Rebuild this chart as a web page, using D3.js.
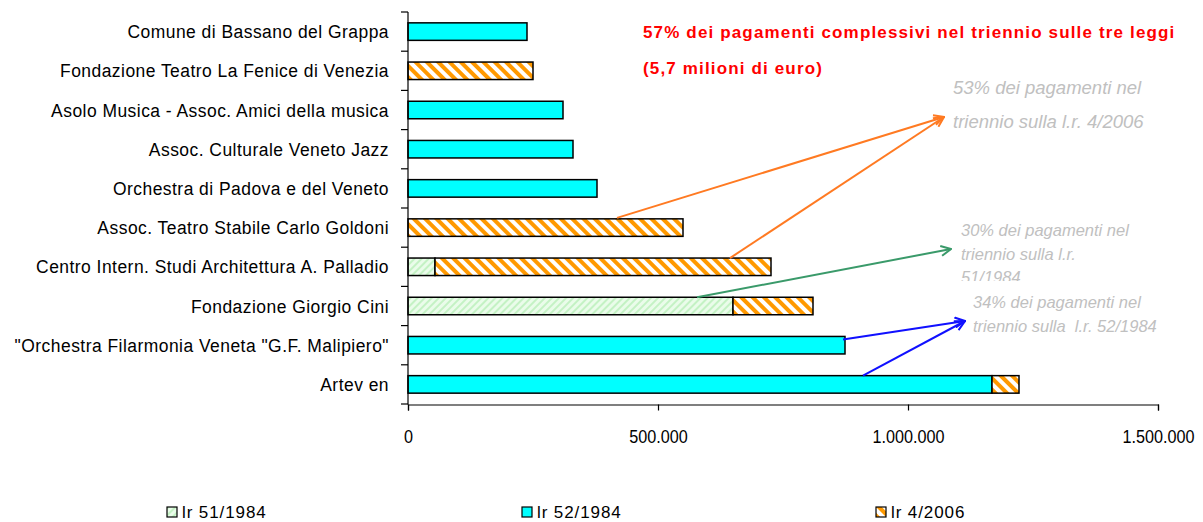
<!DOCTYPE html>
<html><head><meta charset="utf-8">
<script src="https://cdn.jsdelivr.net/npm/d3@7"></script>
<style>
html,body{margin:0;padding:0;background:#fff;}
svg{display:block;font-family:"Liberation Sans",Arial,sans-serif;}
</style></head>
<body><svg id="c" width="1203" height="522"></svg>
<script>
const categories = [
  "Comune di Bassano del Grappa",
  "Fondazione Teatro La Fenice di Venezia",
  "Asolo Musica - Assoc. Amici della musica",
  "Assoc. Culturale Veneto Jazz",
  "Orchestra di Padova e del Veneto",
  "Assoc. Teatro Stabile Carlo Goldoni",
  "Centro Intern. Studi Architettura A. Palladio",
  "Fondazione Giorgio Cini",
  "\"Orchestra Filarmonia Veneta \"G.F. Malipiero\"",
  "Artev en"
];
const seriesNames = ["lr 51/1984", "lr 52/1984", "lr 4/2006"];
const lr51 = [0, 0, 0, 0, 0, 0, 54000, 650000, 0, 0];
const lr52 = [238000, 0, 310000, 330000, 378000, 0, 0, 0, 874000, 1168000];
const lr4  = [0, 250000, 0, 0, 0, 550000, 672000, 160000, 0, 54000];
const xTicks = [0, 500000, 1000000, 1500000];

const titleLines = ["57% dei pagamenti complessivi nel triennio sulle tre leggi", "(5,7 milioni di euro)"];
const note4 = ["53% dei pagamenti nel", "triennio sulla l.r. 4/2006"];
const note51 = ["30% dei pagamenti nel", "triennio sulla l.r.", "51/1984"];
const note52 = ["34% dei pagamenti nel", "triennio sulla  l.r. 52/1984"];

// arrows: start on a bar (category, value), end near a note
const arrows = [
  {cat: 5, value: 418000, dy: -1, to: [944, 117], color: "#ff7a22"},
  {cat: 6, value: 644000, dy: 0, to: [944, 117], color: "#ff7a22"},
  {cat: 7, value: 578000, dy: 0, to: [951, 249], color: "#3a9a6a"},
  {cat: 8, value: 870000, dy: 3, to: [965, 321], color: "#1010ff"},
  {cat: 9, value: 910000, dy: 0, to: [965, 321], color: "#1010ff"}
];

const svg = d3.select("#c");
const defs = svg.append("defs");

const po = defs.append("pattern").attr("id", "pOrange").attr("patternUnits", "userSpaceOnUse")
  .attr("width", 8).attr("height", 8).attr("patternTransform", "rotate(-45)");
po.append("rect").attr("width", 8).attr("height", 8).attr("fill", "#fff");
po.append("rect").attr("width", 4).attr("height", 8).attr("fill", "#ff9900");

const pg = defs.append("pattern").attr("id", "pGreen").attr("patternUnits", "userSpaceOnUse")
  .attr("width", 5).attr("height", 5).attr("patternTransform", "rotate(45)");
pg.append("rect").attr("width", 5).attr("height", 5).attr("fill", "#eafcea");
pg.append("rect").attr("width", 2).attr("height", 5).attr("fill", "#c4f2c4");

const fills = ["url(#pGreen)", "#00ffff", "url(#pOrange)"];

const colors = Array.from(new Set(arrows.map(a => a.color)));
colors.forEach((c, i) => {
  defs.append("marker").attr("id", "m" + i).attr("markerUnits", "userSpaceOnUse")
    .attr("viewBox", "0 0 12 12").attr("refX", 11).attr("refY", 6)
    .attr("markerWidth", 12).attr("markerHeight", 12).attr("orient", "auto")
    .append("path").attr("d", "M1,1 L11,6 L1,11").attr("fill", "none")
    .attr("stroke", c).attr("stroke-width", 2);
});

const x = d3.scaleLinear().domain([0, 1500000]).range([408, 1158]);
const pad = 1 - 17.5 / 39.2;
const y = d3.scaleBand().domain(d3.range(categories.length)).range([12, 404])
  .paddingInner(pad).paddingOuter(pad / 2);

const table = categories.map((c, i) => ({i, s0: lr51[i], s1: lr52[i], s2: lr4[i]}));
const stack = d3.stack().keys(["s0", "s1", "s2"])(table);

stack.forEach((layer, k) => {
  svg.append("g").selectAll("rect")
    .data(layer.filter(d => d[1] - d[0] > 0))
    .join("rect")
    .attr("x", d => x(d[0]))
    .attr("y", d => y(d.data.i))
    .attr("width", d => x(d[1]) - x(d[0]))
    .attr("height", y.bandwidth())
    .attr("fill", fills[k])
    .attr("stroke", "#000").attr("stroke-width", 1.5);
});

// axes
const fmt = v => d3.format(",")(v).replace(/,/g, ".");
const gx = svg.append("g").attr("transform", "translate(0,404.5)")
  .call(d3.axisBottom(x).tickValues(xTicks).tickFormat(fmt).tickSize(6).tickPadding(20));
gx.select(".domain").attr("stroke", "#000").attr("stroke-width", 1.2);
gx.selectAll(".tick line").attr("stroke", "#000").attr("stroke-width", 1.2);
gx.selectAll(".tick text").attr("font-size", 18).attr("fill", "#000")
  .attr("font-family", "Liberation Sans, Arial, sans-serif")
  .attr("x", 0).attr("dy", "0.7em")
  .attr("transform", "scale(0.9,1)");

const gy = svg.append("g");
gy.append("line").attr("x1", 408).attr("x2", 408).attr("y1", y.range()[0]).attr("y2", 404.5)
  .attr("stroke", "#000").attr("stroke-width", 1.2);
gy.selectAll("line.t").data(d3.range(categories.length + 1)).join("line").attr("class", "t")
  .attr("x1", 401).attr("x2", 408)
  .attr("y1", i => y.range()[0] + i * y.step()).attr("y2", i => y.range()[0] + i * y.step())
  .attr("stroke", "#000").attr("stroke-width", 1.2);
gy.selectAll("text").data(categories).join("text")
  .attr("transform", (d, i) => `translate(389,${y(i) + y.bandwidth() / 2 + 6.5}) scale(0.92,1)`)
  .attr("text-anchor", "end").attr("font-size", 19).attr("letter-spacing", "0.5px")
  .attr("fill", "#000").text(d => d);

svg.append("g").selectAll("text").data(titleLines).join("text")
  .attr("x", 643).attr("y", (d, i) => 38 + i * 36)
  .attr("font-size", 17).attr("font-weight", "bold").attr("letter-spacing", "1.15px")
  .attr("fill", "#ff0000").text(d => d);

function note(lines, x0, y0, lh, fs, clipY) {
  const g = svg.append("g");
  if (clipY) {
    const id = "clip" + Math.round(x0);
    defs.append("clipPath").attr("id", id).append("rect")
      .attr("x", x0 - 5).attr("y", 0).attr("width", 300).attr("height", clipY);
    g.attr("clip-path", `url(#${id})`);
  }
  g.selectAll("text").data(lines).join("text")
    .attr("x", x0).attr("y", (d, i) => y0 + i * lh)
    .attr("font-size", fs).attr("font-style", "italic").attr("fill", "#c0c0c0")
    .style("white-space", "pre").text(d => d);
}
note(note4, 953, 94, 34, 18.5);
note(note51, 961, 236, 23.5, 16.5, 281);
note(note52, 973, 308, 23.5, 16.5);

svg.append("g").selectAll("line").data(arrows).join("line")
  .attr("x1", d => x(d.value)).attr("y1", d => y(d.cat) + d.dy)
  .attr("x2", d => d.to[0]).attr("y2", d => d.to[1])
  .attr("stroke", d => d.color).attr("stroke-width", 2)
  .attr("marker-end", d => `url(#m${colors.indexOf(d.color)})`);

const legX = [167, 522, 876];
const lg = svg.append("g").selectAll("g").data(seriesNames).join("g")
  .attr("transform", (d, i) => `translate(${legX[i]},507)`);
lg.append("rect").attr("width", 10).attr("height", 10)
  .attr("fill", (d, i) => fills[i]).attr("stroke", "#000").attr("stroke-width", 1.2);
lg.append("text").attr("x", 15).attr("y", 10.5).attr("font-size", 17).attr("letter-spacing", "0.9px")
  .attr("fill", "#000").text(d => d);
</script></body></html>
